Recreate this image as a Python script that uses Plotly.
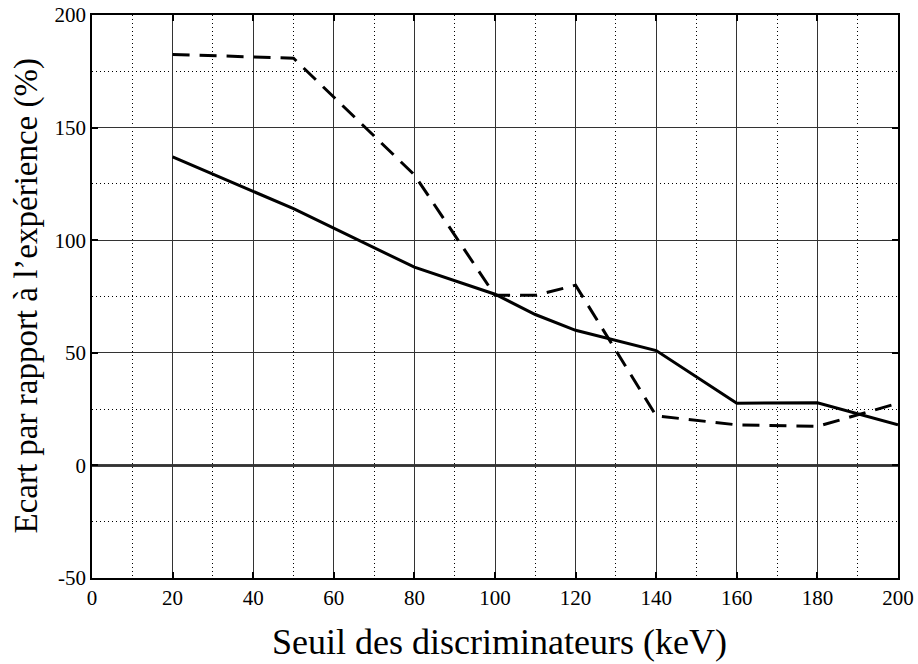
import plotly.graph_objects as go

x_vals = [20, 50, 80, 100, 110, 120, 140, 160, 180, 200]
solid_vals = [137, 114, 88, 76, 67, 60, 51, 27.6, 27.8, 18]
dashed_vals = [182.5, 180.8, 129, 75.5, 75.5, 80, 22, 18, 17.3, 27.6]
x_ticks = [0, 20, 40, 60, 80, 100, 120, 140, 160, 180, 200]
x_tick_text = ["0", "20", "40", "60", "80", "100", "120", "140", "160", "180", "200"]
y_ticks = [-50, 0, 50, 100, 150, 200]
y_tick_text = ["-50", "0", "50", "100", "150", "200"]
x_title = "Seuil des discriminateurs (keV)"
y_title = "Ecart par rapport à l’expérience (%)"

font = "Liberation Serif"

fig = go.Figure()
fig.add_trace(go.Scatter(x=x_vals, y=solid_vals, mode="lines",
                         line=dict(color="black", width=3), showlegend=False))
fig.add_trace(go.Scatter(x=x_vals, y=dashed_vals, mode="lines",
                         line=dict(color="black", width=3, dash="17px,10px"), showlegend=False))

axis_common = dict(
    showline=True, linecolor="black", linewidth=1.5, mirror="ticks",
    ticks="inside", ticklen=6, tickcolor="black", tickwidth=1.5,
    showgrid=True, gridcolor="#333333", gridwidth=1,
    zeroline=False, automargin=False, ticklabeloverflow="allow",
    tickfont=dict(family=font, size=21, color="black"),
)

fig.update_xaxes(
    range=[0, 200], tickvals=x_ticks, ticktext=x_tick_text,
    minor=dict(dtick=10, tick0=0, showgrid=True, gridcolor="black", griddash="1px,3px", gridwidth=1),
    **axis_common,
)
fig.update_yaxes(
    range=[-50, 200], tickvals=y_ticks, ticktext=y_tick_text,
    minor=dict(dtick=25, tick0=0, showgrid=True, gridcolor="black", griddash="1px,3px", gridwidth=1),
    **axis_common,
)

fig.add_shape(type="line", xref="x", yref="y", x0=0, x1=200, y0=0, y1=0,
              line=dict(color="black", width=2.5), layer="below")

fig.add_annotation(text=x_title, xref="paper", yref="paper", x=0.5, y=0,
                   xanchor="center", yanchor="middle", xshift=4, yshift=-64,
                   showarrow=False, font=dict(family=font, size=36, color="black"))
fig.add_annotation(text=y_title, xref="paper", yref="paper", x=0, y=0.5,
                   xanchor="center", yanchor="middle", xshift=-66, textangle=-90,
                   showarrow=False, font=dict(family=font, size=33, color="black"))

fig.update_layout(
    width=918, height=664,
    margin=dict(l=92, r=20, t=15, b=86),
    plot_bgcolor="white", paper_bgcolor="white",
    font=dict(family=font, color="black"),
)

fig.write_html(
    "out.html",
    config={"displayModeBar": False},
    post_script="document.body.style.margin='0';document.body.style.overflow='hidden';",
)
